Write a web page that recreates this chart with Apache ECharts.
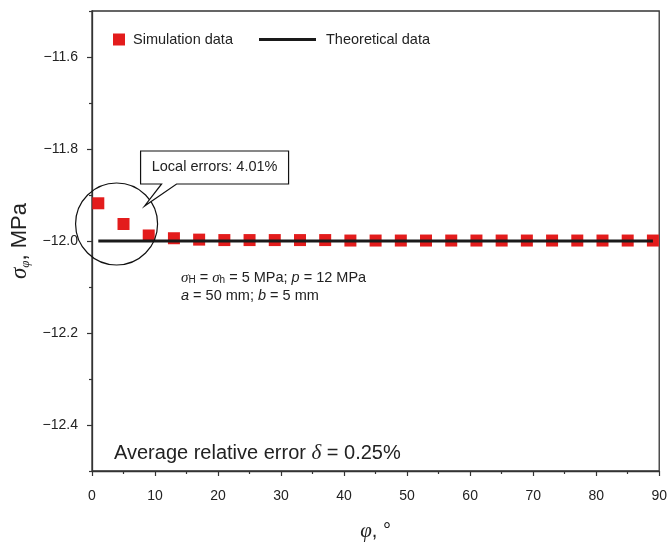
<!DOCTYPE html>
<html>
<head>
<meta charset="utf-8">
<script src="https://cdn.jsdelivr.net/npm/echarts@6/dist/echarts.min.js"></script>
<style>
  html, body { margin: 0; padding: 0; background: #fff; }
  #chart { width: 670px; height: 547px; }
</style>
</head>
<body>
<div id="chart"></div>
<script>
// Hoop stress around the hole vs. polar angle
const phiDeg = [1, 5, 9, 13, 17, 21, 25, 29, 33, 37, 41, 45, 49, 53, 57, 61, 65, 69, 73, 77, 81, 85, 89];
const simStress = [-11.918, -11.963, -11.988, -11.994, -11.997, -11.998, -11.998, -11.998, -11.998, -11.998,
                   -11.999, -11.999, -11.999, -11.999, -11.999, -11.999, -11.999, -11.999, -11.999, -11.999,
                   -11.999, -11.999, -11.999];
const theoryPhi = [1, 89];
const theoryStress = [-12.0, -12.0];
const yMajorTicks = [-12.4, -12.2, -12.0, -11.8, -11.6];
const yMinorTicks = [-12.5, -12.3, -12.1, -11.9, -11.7, -11.5];
const seriesNames = ['Simulation data', 'Theoretical data'];

const SANS = 'Liberation Sans, Arial, Helvetica, sans-serif';
const SERIF = 'Liberation Serif, Times New Roman, serif';
const INK = '#222';
const RED = '#e31c1c';

const fmtMinus = v => (v < 0 ? '\u2212' : '') + Math.abs(v).toFixed(1);

const chart = echarts.init(document.getElementById('chart'), null, { renderer: 'canvas' });

const option = {
  animation: false,
  backgroundColor: '#fff',
  grid: {
    left: 92, right: 8, top: 11, bottom: 71,
    show: true, borderColor: '#333', borderWidth: 1.3, backgroundColor: 'transparent'
  },
  legend: [
    {
      data: [seriesNames[0]], left: 113, top: 32, padding: 0, itemWidth: 12, itemHeight: 12, icon: 'rect',
      itemStyle: { color: RED, opacity: 1 },
      textStyle: { fontFamily: SANS, fontSize: 14.5, color: INK, padding: [0, 0, 0, 3] }
    },
    {
      data: [seriesNames[1]], left: 259, top: 32, padding: 0, itemWidth: 57, itemHeight: 12,
      icon: 'path://M0,5 L57,5 L57,8 L0,8 Z',
      itemStyle: { color: '#1a1a1a' },
      textStyle: { fontFamily: SANS, fontSize: 14.5, color: INK, padding: [0, 0, 0, 5] }
    }
  ],
  xAxis: {
    type: 'value', min: 0, max: 90, interval: 10,
    name: '{g|φ}{n|, °}', nameLocation: 'middle', nameGap: 50,
    nameTextStyle: { rich: {
      g: { fontFamily: SERIF, fontStyle: 'italic', fontSize: 21, color: INK },
      n: { fontFamily: SANS, fontSize: 20, color: INK }
    } },
    axisLine: { show: true, onZero: false, lineStyle: { color: '#333', width: 1.3 } },
    axisTick: { show: true, inside: false, length: 5, lineStyle: { color: '#333', width: 1.2 } },
    minorTick: { show: true, splitNumber: 2, length: 3, lineStyle: { color: '#333', width: 1.2 } },
    axisLabel: { fontFamily: SANS, fontSize: 14, color: INK, margin: 18 },
    splitLine: { show: false }
  },
  yAxis: [
    {
      type: 'value', min: -12.5, max: -11.5,
      name: '{s|σ}{sub|φ}{n|, MPa}', nameLocation: 'middle', nameRotate: 90, nameGap: 57,
      nameTextStyle: { rich: {
        s: { fontFamily: SERIF, fontStyle: 'italic', fontSize: 23, color: INK },
        sub: { fontFamily: SERIF, fontStyle: 'italic', fontSize: 13, color: INK, verticalAlign: 'bottom', padding: [9, 0, 0, 0] },
        n: { fontFamily: SANS, fontSize: 22, color: INK }
      } },
      axisLine: { show: true, onZero: false, lineStyle: { color: '#333', width: 1.3 } },
      axisTick: { show: true, inside: false, length: 5, customValues: yMajorTicks, lineStyle: { color: '#333', width: 1.2 } },
      axisLabel: { fontFamily: SANS, fontSize: 14, color: INK, margin: 14, customValues: yMajorTicks, formatter: fmtMinus },
      splitLine: { show: false }
    },
    {
      type: 'value', min: -12.5, max: -11.5, position: 'left',
      axisLine: { show: false },
      axisTick: { show: true, inside: false, length: 3, customValues: yMinorTicks, lineStyle: { color: '#333', width: 1.2 } },
      axisLabel: { show: false },
      splitLine: { show: false }
    }
  ],
  series: [
    {
      name: seriesNames[0], type: 'scatter', symbol: 'rect', symbolSize: 12, z: 2,
      itemStyle: { color: RED, opacity: 1 },
      data: phiDeg.map((p, i) => [p, simStress[i]])
    },
    {
      name: seriesNames[1], type: 'line', symbol: 'none', z: 3,
      lineStyle: { color: '#1a1a1a', width: 3 },
      itemStyle: { color: '#1a1a1a' },
      data: theoryPhi.map((p, i) => [p, theoryStress[i]])
    }
  ]
};
chart.setOption(option);

// Callout: circle around the first points, with a labelled box
const c = chart.convertToPixel({ xAxisIndex: 0, yAxisIndex: 0 }, [3.9, -11.963]);
const cx = c[0], cy = c[1];
const bx = cx + 24, by = cy - 73, bw = 148, bh = 33;
const calloutShape = [
  [bx, by], [bx + bw, by], [bx + bw, by + bh],
  [cx + 60, by + bh], [cx + 28, cy - 18], [cx + 45, by + bh],
  [bx, by + bh]
];

chart.setOption({
  graphic: [
    {
      type: 'circle', shape: { cx: cx, cy: cy, r: 41 }, z: 10,
      style: { fill: 'none', stroke: '#111', lineWidth: 1.2 }
    },
    {
      type: 'polygon', shape: { points: calloutShape }, z: 11,
      style: { fill: '#fff', stroke: '#111', lineWidth: 1.2 }
    },
    {
      type: 'text', x: bx + bw / 2, y: by + bh / 2, z: 12,
      style: { text: 'Local errors: 4.01%', font: '14.5px ' + SANS, fill: INK, align: 'center', verticalAlign: 'middle' }
    },
    {
      type: 'text', x: 181, y: 278, z: 12,
      style: {
        text: '{g|σ}{sb|H}{t| = }{g|σ}{sb|h}{t| = 5 MPa; }{i|p}{t| = 12 MPa}',
        verticalAlign: 'middle',
        rich: {
          g: { font: 'italic 15px ' + SERIF, fill: INK },
          sb: { font: '10px ' + SANS, fill: INK, verticalAlign: 'bottom', padding: [5, 0, 0, 0] },
          t: { font: '14.5px ' + SANS, fill: INK },
          i: { font: 'italic 14.5px ' + SANS, fill: INK }
        }
      }
    },
    {
      type: 'text', x: 181, y: 296, z: 12,
      style: {
        text: '{i|a}{t| = 50 mm; }{i|b}{t| = 5 mm}',
        verticalAlign: 'middle',
        rich: {
          t: { font: '14.5px ' + SANS, fill: INK },
          i: { font: 'italic 14.5px ' + SANS, fill: INK }
        }
      }
    },
    {
      type: 'text', x: 114, y: 453, z: 12,
      style: {
        text: '{t|Average relative error }{d|δ}{t| = 0.25%}',
        verticalAlign: 'middle',
        rich: {
          t: { font: '20px ' + SANS, fill: INK },
          d: { font: 'italic 21px ' + SERIF, fill: INK }
        }
      }
    }
  ]
});
</script>
</body>
</html>
